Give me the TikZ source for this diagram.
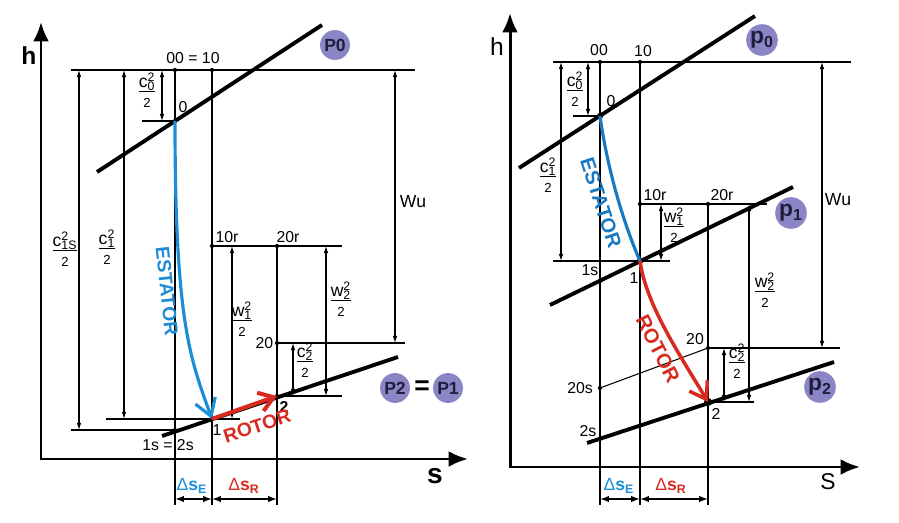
\documentclass[tikz,border=0pt]{standalone}
\usepackage{fontspec}
\setmainfont{Liberation Sans}
\usetikzlibrary{arrows.meta,positioning}
\definecolor{stblue}{HTML}{1C8DD6}
\definecolor{stblueR}{HTML}{177AC2}
\definecolor{rtred}{HTML}{D82A1E}
\definecolor{pbg}{HTML}{8C85C5}
\definecolor{ptxt}{HTML}{1E1E3C}
\setlength{\arrayrulewidth}{0.8pt}
\newcommand{\hfr}[2]{\begin{tabular}{@{}c@{}}\fontsize{10}{10}\selectfont #1\rlap{\textsuperscript{2}}\textsubscript{#2}\\[-1.5pt]\hline\rule{0pt}{8pt}\fontsize{7.5}{8}\selectfont 2\end{tabular}}
\newcommand{\dsl}[2]{\textcolor{#1}{Δ\textbf{s}\textsubscript{\textbf{#2}}}}
\tikzset{thn/.style={line width=0.6pt},
  dimarr/.style={thn, {Latex[length=4pt,width=2.6pt]}-{Latex[length=4pt,width=2.6pt]}},
  dsarr/.style={line width=0.8pt, {Latex[length=5pt,width=3.6pt]}-{Latex[length=5pt,width=3.6pt]}},
  isob/.style={line width=2.2pt},
  axisl/.style={line width=1.7pt, {Latex[length=11pt,width=9pt]}-{Latex[length=11pt,width=9pt]}},
  dotp/.style={circle, fill, inner sep=0pt, minimum size=2.4pt},
  bdot/.style={circle, fill, inner sep=0pt, minimum size=3.6pt},
  pbub/.style={circle, fill=pbg, inner sep=0pt, minimum size=17pt, text=ptxt, font=\bfseries\fontsize{10}{10}\selectfont},
  lab/.style={inner sep=0pt, font=\fontsize{9}{10}\selectfont},
  frl/.style={inner sep=0pt},
  proc/.style={inner sep=0pt, font=\bfseries\fontsize{11}{11}\selectfont}}

\begin{document}
\begin{tikzpicture}[x=0.02cm, y=-0.02cm]
  \useasboundingbox (0,0) rectangle (899,523);
  % ---------------- left diagram: P2 = P1 ----------------
  \coordinate (Lh) at (41,22); \coordinate (LO) at (41,459); \coordinate (Ls) at (468,459);
  \coordinate (L00) at (175,70); \coordinate (L10) at (212,70);
  \coordinate (L0) at (175,121); \coordinate (L1) at (212,419); \coordinate (L1s) at (175,430);
  \coordinate (L10r) at (212,246); \coordinate (L20r) at (277,246);
  \coordinate (L20) at (277,343); \coordinate (L2) at (277,396);
  \draw[axisl] (Lh) -- (LO) -- (Ls);
  \node[font=\bfseries\fontsize{14}{14}\selectfont] (Lhl) at (29,56) {h};
  \node[font=\bfseries\fontsize{16}{16}\selectfont] (Lsl) at (435,476) {s};
  % isobars
  \draw[isob] (97,172) -- (322,25);
  \draw[isob] (162,436) -- (398,357);
  \node[pbub] (LP0) at (335,45) {P0};
  \node[pbub] (LP2) at (395,388) {P2};
  \node[font=\bfseries\fontsize{15}{15}\selectfont] (Leq) at (422,388) {=};
  \node[pbub] (LP1) at (448,388) {P1};
  % construction lines
  \draw[thn] (71,70) -- (415,70);
  \foreach \p in {L00,L10} {\draw[thn] (\p) -- (\p |- 0,505);}
  \draw[thn] (L20r) -- (L20r |- 0,505);
  \draw[thn] (142,121) -- (L0);
  \draw[thn] (71,430) -- (L1s);
  \draw[thn] (106,419) -- (240,419);
  \draw[thn] (L10r) -- (342,246);
  \draw[thn] (L20) -- (405,343);
  \draw[thn] (L2) -- (342,396);
  % dimension arrows
  \foreach \x/\ya/\yb in {79/70/430, 124/70/419, 162/70/121, 232/246/419, 326/246/396, 293/343/396, 395/70/343}
    {\draw[dimarr] (\x,\ya) -- (\x,\yb);}
  \draw[dsarr] (L00 |- 0,499) -- (L10 |- 0,499);
  \draw[dsarr] (L10 |- 0,499) -- (L20r |- 0,499);
  \node[lab, font=\fontsize{10}{10}\selectfont] (LdsE) at (192,486) {\dsl{stblue}{E}};
  \node[lab, font=\fontsize{10}{10}\selectfont] (LdsR) at (244,486) {\dsl{rtred}{R}};
  % fractions
  \node[frl] (Lfc0) at (147,93) {\hfr{c}{0}};
  \node[frl] (Lfc1s) at (65,252) {\hfr{c}{1S}};
  \node[frl] (Lfc1) at (107,250) {\hfr{c}{1}};
  \node[frl] (Lfw1) at (242,322) {\hfr{w}{1}};
  \node[frl] (Lfw2) at (341,302) {\hfr{w}{2}};
  \node[frl] (Lfc2) at (305,363) {\hfr{c}{2}};
  \node[lab, font=\fontsize{10}{10}\selectfont] (LWu) at (413,202) {Wu};
  % state points
  \foreach \p in {L00,L10,L0,L1s,L10r,L20r,L20,L1,L2} {\node[dotp] at (\p) {};}
  \node[lab] (L00l) at (193,58) {00 = 10};
  \node[lab] (L0l) at (183,107) {0};
  \node[lab] (L10rl) at (227,237) {10r};
  \node[lab] (L20rl) at (288,237) {20r};
  \node[lab, left=2pt of L20] (L20l) {20};
  \node[lab] (L1l) at (217,430) {1};
  \node[lab, font=\bfseries\fontsize{9}{10}\selectfont] (L2l) at (284,407) {2};
  \node[lab] (L1sl) at (168,445) {1s = 2s};
  % expansion
  \draw[stblue, line width=1.8pt, -{Straight Barb[length=9.5pt,width=12pt]}] (L0) .. controls (175,322) and (190,358) .. (L1);
  \draw[rtred, line width=2.3pt, -{Straight Barb[length=8pt,width=11pt]}] (L1) -- (L2);
  \node[proc, text=stblue, rotate=-84] (Lest) at (167,291) {ESTATOR};
  \node[proc, text=rtred, rotate=18] (Lrot) at (257,426) {ROTOR};
  % ---------------- right diagram: p0, p1, p2 ----------------
  \coordinate (Rh) at (510,13); \coordinate (RO) at (510,467); \coordinate (Rs) at (860,467);
  \coordinate (R00) at (600,62); \coordinate (R10) at (640,62);
  \coordinate (R0) at (600,116); \coordinate (R1) at (640,261); \coordinate (R1s) at (600,281);
  \coordinate (R10r) at (640,204); \coordinate (R20r) at (708,204);
  \coordinate (R20) at (708,348); \coordinate (R20s) at (600,388);
  \coordinate (R2s) at (600,439); \coordinate (R2) at (708,402);
  \draw[axisl] (Rh) -- (RO) -- (Rs);
  \node[font=\fontsize{14}{14}\selectfont] (Rhl) at (497,47) {h};
  \node[font=\fontsize{13}{13}\selectfont] (Rsl) at (828,482) {S};
  % isobars
  \draw[isob] (519,168) -- (755,16);
  \draw[isob] (550,305) -- (793,187);
  \draw[isob] (587,443) -- (834,362);
  \node[pbub, minimum size=18pt, font=\bfseries\fontsize{13}{13}\selectfont] (RP0) at (762,40) {p\textsubscript{0}};
  \node[pbub, minimum size=18pt, font=\bfseries\fontsize{13}{13}\selectfont] (RP1) at (791,213) {p\textsubscript{1}};
  \node[pbub, minimum size=18pt, font=\bfseries\fontsize{13}{13}\selectfont] (RP2) at (820,387) {p\textsubscript{2}};
  % construction lines
  \draw[thn] (553,62) -- (851,62);
  \foreach \p in {R00,R10} {\draw[thn] (\p) -- (\p |- 0,505);}
  \draw[thn] (R20r) -- (R20r |- 0,505);
  \draw[thn] (573,116) -- (R0);
  \draw[thn] (553,261) -- (670,261);
  \draw[thn] (R10r) -- (767,204);
  \draw[thn] (R20) -- (840,348);
  \draw[thn] (R2) -- (754,402);
  \draw[thn] (R20s) -- (R20);
  % dimension arrows
  \foreach \x/\ya/\yb in {561/62/261, 588/62/116, 661/204/261, 749/204/402, 724/348/402, 822/62/348}
    {\draw[dimarr] (\x,\ya) -- (\x,\yb);}
  \draw[dsarr] (R00 |- 0,499) -- (R10 |- 0,499);
  \draw[dsarr] (R10 |- 0,499) -- (R20r |- 0,499);
  \node[lab, font=\fontsize{10}{10}\selectfont] (RdsE) at (619,486) {\dsl{stblue}{E}};
  \node[lab, font=\fontsize{10}{10}\selectfont] (RdsR) at (671,486) {\dsl{rtred}{R}};
  % fractions
  \node[frl] (Rfc0) at (575,92) {\hfr{c}{0}};
  \node[frl] (Rfc1) at (548,178) {\hfr{c}{1}};
  \node[frl] (Rfw1) at (674,228) {\hfr{w}{1}};
  \node[frl] (Rfw2) at (765,293) {\hfr{w}{2}};
  \node[frl] (Rfc2) at (737,364) {\hfr{c}{2}};
  \node[lab, font=\fontsize{10}{10}\selectfont] (RWu) at (838,200) {Wu};
  % state points
  \foreach \p in {R00,R10,R1s,R10r,R20r,R20,R20s,R2s} {\node[dotp] at (\p) {};}
  \foreach \p in {R0,R1} {\node[bdot] at (\p) {};}
  \node[bdot, minimum size=4.6pt] at (R2) {};
  \node[lab] (R00l) at (599,50) {00};
  \node[lab] (R10l) at (643,51) {10};
  \node[lab] (R0l) at (611,101) {0};
  \node[lab] (R10rl) at (655,195) {10r};
  \node[lab] (R20rl) at (722,195) {20r};
  \node[lab] (R1sl) at (590,270) {1s};
  \node[lab] (R1l) at (634,278) {1};
  \node[lab] (R20l) at (695,339) {20};
  \node[lab] (R20sl) at (580,388) {20s};
  \node[lab] (R2sl) at (588,431) {2s};
  \node[lab] (R2l) at (716,414) {2};
  % expansion
  \draw[stblueR, line width=1.8pt] (R0) .. controls (606,160) and (620,215) .. (R1);
  \draw[rtred, line width=2pt, -{Straight Barb[length=9pt,width=12pt]}] (R1) .. controls (646,305) and (680,355) .. (R2);
  \node[proc, text=stblueR, font=\bfseries\fontsize{11.5}{11.5}\selectfont, rotate=-72] (Rest) at (601,203) {ESTATOR};
  \node[proc, text=rtred, font=\bfseries\fontsize{11.5}{11.5}\selectfont, rotate=-63] (Rrot) at (658,349) {ROTOR};
\end{tikzpicture}
\end{document}
